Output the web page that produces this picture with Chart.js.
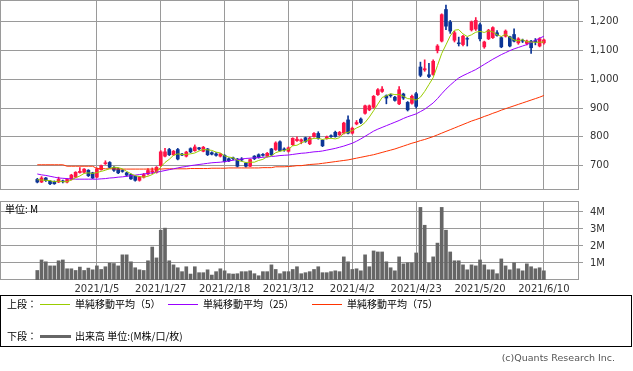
<!DOCTYPE html>
<html><head><meta charset="utf-8">
<script src="https://cdn.jsdelivr.net/npm/chart.js@4/dist/chart.umd.min.js"></script>
<style>
html,body{margin:0;padding:0;background:#fff;width:633px;height:371px;overflow:hidden;font-family:"DejaVu Sans",sans-serif;}
#wrap{position:relative;width:633px;height:371px;}
canvas{position:absolute;left:0;}
#c1{top:0;}
#c2{top:196px;}
.t{position:absolute;white-space:nowrap;color:#000;font-size:10px;line-height:12px;font-family:"Noto Sans CJK JP","DejaVu Sans",sans-serif;}
.ln{position:absolute;height:1px;}
#legend{position:absolute;left:0;top:295px;width:632px;height:52px;box-sizing:border-box;border:1px solid #000;}
#unit{position:absolute;left:5px;top:203px;font-size:10px;line-height:12px;color:#000;font-family:"Noto Sans CJK JP","DejaVu Sans",sans-serif;}
#copy{position:absolute;right:18px;top:352px;font-size:9.5px;line-height:12px;color:#555;font-family:"DejaVu Sans",sans-serif;}
</style></head>
<body><div id="wrap">
<canvas id="c1" width="633" height="195"></canvas>
<canvas id="c2" width="633" height="102"></canvas>
<div id="unit">単位: M</div>
<div id="legend"></div>
<div class="t" style="left:7px;top:298px;">上段：</div>
<div class="ln" style="left:40px;top:304px;width:30px;background:#99cc00;"></div>
<div class="t" style="left:75px;top:298px;">単純移動平均（5）</div>
<div class="ln" style="left:168px;top:304px;width:30px;background:#9900ff;"></div>
<div class="t" style="left:203px;top:298px;">単純移動平均（25）</div>
<div class="ln" style="left:312px;top:304px;width:30px;background:#ff3300;"></div>
<div class="t" style="left:347px;top:298px;">単純移動平均（75）</div>
<div class="t" style="left:7px;top:330px;">下段：</div>
<div class="ln" style="left:40px;top:335px;width:31px;height:3px;background:#666;"></div>
<div class="t" style="left:75px;top:330px;">出来高 単位:(M株/口/枚)</div>
<div id="copy">(c)Quants Research Inc.</div>
</div>
<script>
const dates = ["2020/12/14","2020/12/15","2020/12/16","2020/12/17","2020/12/18","2020/12/21","2020/12/22","2020/12/23","2020/12/24","2020/12/25","2020/12/28","2020/12/29","2020/12/30",
"2021/1/4","2021/1/5","2021/1/6","2021/1/7","2021/1/8","2021/1/12","2021/1/13","2021/1/14","2021/1/15","2021/1/18","2021/1/19","2021/1/20","2021/1/21","2021/1/22","2021/1/25","2021/1/26","2021/1/27","2021/1/28","2021/1/29",
"2021/2/1","2021/2/2","2021/2/3","2021/2/4","2021/2/5","2021/2/8","2021/2/9","2021/2/10","2021/2/12","2021/2/15","2021/2/16","2021/2/17","2021/2/18","2021/2/19","2021/2/22","2021/2/24","2021/2/25","2021/2/26",
"2021/3/1","2021/3/2","2021/3/3","2021/3/4","2021/3/5","2021/3/8","2021/3/9","2021/3/10","2021/3/11","2021/3/12","2021/3/15","2021/3/16","2021/3/17","2021/3/18","2021/3/19","2021/3/22","2021/3/23","2021/3/24","2021/3/25","2021/3/26","2021/3/29","2021/3/30","2021/3/31",
"2021/4/1","2021/4/2","2021/4/5","2021/4/6","2021/4/7","2021/4/8","2021/4/9","2021/4/12","2021/4/13","2021/4/14","2021/4/15","2021/4/16","2021/4/19","2021/4/20","2021/4/21","2021/4/22","2021/4/23","2021/4/26","2021/4/27","2021/4/28","2021/4/30",
"2021/5/6","2021/5/7","2021/5/10","2021/5/11","2021/5/12","2021/5/13","2021/5/14","2021/5/17","2021/5/18","2021/5/19","2021/5/20","2021/5/21","2021/5/24","2021/5/25","2021/5/26","2021/5/27","2021/5/28","2021/5/31",
"2021/6/1","2021/6/2","2021/6/3","2021/6/4","2021/6/7","2021/6/8","2021/6/9","2021/6/10"];

const openP = [652,643,657,646,645,643,647,643,652,660,
676,677,684,675,660,686,707,711,694,689,
683,675,669,663,649,660,671,679,677,700,
733,756,738,756,740,733,759,752,762,750,
758,745,741,733,736,724,727,723,723,709,
698,733,738,739,733,758,756,783,758,750,
773,787,785,797,776,801,812,788,795,804,
816,807,813,859,813,845,862,882,894,903,
947,958,943,946,938,915,949,920,917,950,
1043,1033,1016,1017,1100,1133,1243,1199,1136,1127,
1121,1142,1172,1175,1190,1113,1141,1145,1162,1145,
1150,1148,1156,1127,1136,1125,1133,1135,1116,1127];

const highP = [656,662,659,649,647,660,650,655,670,679,
693,690,686,677,692,702,717,714,697,692,
686,677,671,665,663,673,690,692,697,752,
760,760,753,760,743,750,762,772,764,767,
760,748,745,743,738,727,730,725,728,711,
723,735,741,742,746,760,783,786,762,765,
797,800,793,799,800,815,818,790,803,807,
820,819,851,873,834,857,866,911,911,944,
968,975,946,949,941,975,952,923,945,955,
1060,1068,1056,1068,1121,1228,1258,1205,1167,1147,
1153,1146,1203,1215,1196,1133,1174,1183,1170,1148,
1172,1150,1176,1145,1140,1137,1136,1142,1145,1140];

const lowP = [640,641,645,634,635,641,640,640,650,658,
674,675,662,655,658,684,704,692,680,672,
677,663,652,646,646,657,668,672,674,698,
730,735,735,720,735,730,745,750,755,748,
735,737,733,730,712,714,720,695,716,695,
696,721,726,733,730,735,753,750,750,747,
770,784,776,781,773,799,792,766,792,798,
799,805,810,810,810,842,846,879,891,900,
944,955,915,938,924,912,930,890,914,900,
1009,1028,1006,1014,1092,1130,1173,1160,1130,1116,
1116,1116,1168,1170,1134,1108,1138,1142,1150,1110,
1147,1113,1130,1122,1128,1120,1090,1120,1113,1122];

const closeP = [643,657,648,637,637,652,644,652,667,677,
680,688,665,657,689,700,710,694,684,675,
680,667,654,649,661,669,683,682,694,748,
748,738,750,723,737,747,748,765,758,764,
738,740,736,741,715,717,724,698,720,698,
721,724,729,736,743,738,779,752,755,762,
795,792,790,784,796,812,795,769,800,801,
801,816,848,813,830,850,850,908,908,941,
964,966,935,943,927,964,935,894,941,906,
1014,1037,1010,1063,1116,1225,1185,1168,1162,1124,
1150,1140,1200,1205,1141,1130,1171,1180,1153,1113,
1168,1116,1133,1141,1133,1133,1110,1130,1141,1137];

const ma5 = [651,650,649,648,644,646,644,644,650,658,
664,673,675,673,676,680,684,690,695,693,
689,680,672,665,662,660,663,669,678,695,
711,722,736,741,739,739,741,744,751,756,
755,753,747,744,734,730,727,719,715,711,
712,712,718,722,731,734,745,750,753,757,
769,771,779,785,791,795,795,791,794,795,
793,797,813,816,822,831,838,850,869,891,
914,937,943,950,947,947,941,933,932,928,
938,958,982,1006,1048,1090,1120,1151,1171,1173,
1158,1149,1155,1164,1167,1163,1169,1165,1155,1149,
1157,1146,1137,1134,1138,1131,1130,1129,1129,1130];

const ma25 = [671,668,666,663,660,657,656,655,654,653,
653,653,653,653,653,654,655,657,658,660,
661,663,665,667,669,671,673,675,677,680,
683,686,689,692,695,697,700,702,704,706,
708,710,711,712,714,716,719,721,723,725,
726,727,728,729,730,732,733,735,736,737,
739,741,743,744,746,748,749,751,754,757,
760,764,768,773,778,785,793,802,811,820,
827,833,839,845,851,857,864,870,875,880,
888,896,907,918,933,950,966,980,993,1005,
1013,1020,1027,1034,1043,1052,1061,1070,1078,1086,
1093,1100,1106,1111,1116,1121,1128,1136,1143,1150];

const ma75 = [703,703,703,703,703,703,703,698,698,698,
698,698,698,698,690,690,689,689,689,688,
688,688,688,688,688,688,688,688,688,688,
689,689,689,689,689,689,690,690,690,690,
690,691,691,691,691,692,692,692,692,692,
692,692,692,693,693,693,696,696,696,697,
698,700,700,702,704,705,706,708,710,712,
714,716,718,720,723,726,729,732,735,738,
742,746,750,754,758,763,768,773,778,782,
787,791,796,801,807,813,819,825,831,837,
843,849,855,860,865,871,876,882,887,893,
898,903,908,913,918,923,928,933,938,944];

const volumeM = [0.56,1.18,1.07,0.83,0.83,1.13,1.18,0.66,0.66,0.56,
0.76,0.56,0.70,0.60,0.83,0.62,0.78,0.99,0.97,0.83,
1.48,1.48,1.07,0.72,0.60,0.56,1.13,1.94,1.30,2.93,
3.05,1.13,0.89,0.72,0.49,0.78,0.35,0.78,0.43,0.43,
0.60,0.29,0.49,0.66,0.54,0.37,0.35,0.37,0.49,0.49,
0.54,0.37,0.25,0.49,0.49,0.89,0.62,0.37,0.49,0.49,
0.62,0.78,0.37,0.43,0.49,0.62,0.78,0.43,0.43,0.49,
0.54,0.49,1.36,1.07,0.62,0.66,0.54,1.48,0.78,1.71,
1.65,1.65,1.07,0.72,0.54,1.36,0.95,1.01,1.01,1.59,
4.27,3.22,1.01,1.36,2.17,4.27,2.93,1.65,1.13,1.13,
0.89,0.60,0.89,0.83,1.18,0.89,0.60,0.60,0.37,1.24,
0.83,0.60,1.01,0.66,0.54,0.95,0.78,0.66,0.72,0.54];

const dateTickLabels = ["2021/1/5","2021/1/27","2021/2/18","2021/3/12","2021/4/2","2021/4/23","2021/5/20","2021/6/10"];
const priceTickLabels = [700,800,900,1000,1100,1200];
const volumeTickLabels = [1,2,3,4];

const UP = '#ff1447', DOWN = '#0c3596', GRID = '#9a9a9a';
Chart.defaults.font.family = '"DejaVu Sans", sans-serif';
Chart.defaults.font.size = 10;
Chart.defaults.color = '#333';

const dateTickIdx = dateTickLabels.map(l => dates.indexOf(l));
const X_MIN = -8.76, X_MAX = 127.25;

const framePlugin = {
  id: 'frame',
  beforeDatasetsDraw(chart) {
    const {ctx, chartArea: a} = chart;
    ctx.save();
    ctx.strokeStyle = GRID; ctx.lineWidth = 1;
    ctx.strokeRect(Math.round(a.left) + 0.5, Math.round(a.top) + 0.5,
      Math.round(a.right - a.left) - 1, Math.round(a.bottom - a.top) - 1);
    ctx.restore();
  }
};

function zeroPad(s) { s.paddingTop = 0; s.paddingBottom = 0; s.paddingLeft = 0; s.paddingRight = 0; }

function xScale(showLabels, h) {
  return {
    type: 'linear', min: X_MIN, max: X_MAX, offset: false,
    afterBuildTicks: s => { s.ticks = dateTickIdx.map(v => ({value: v})); },
    afterFit: s => { s.height = h; zeroPad(s); },
    grid: {color: GRID, drawTicks: false, lineWidth: 1, offset: false},
    border: {display: false},
    ticks: {display: showLabels, autoSkip: false, maxRotation: 0, padding: 3, color: '#333',
      font: {size: 10}, callback: v => dates[v]}
  };
}

function yScale(min, max, ticks, fmt) {
  return {
    type: 'linear', position: 'right', min: min, max: max,
    afterBuildTicks: s => { s.ticks = ticks.map(v => ({value: v})); },
    afterFit: s => { s.width = 54; zeroPad(s); },
    grid: {color: GRID, tickLength: 4, lineWidth: 1, offset: false},
    border: {display: false},
    ticks: {padding: 7, color: '#333', font: {size: 10}, callback: fmt}
  };
}

const candleColors = openP.map((o, i) => closeP[i] >= o ? UP : DOWN);

new Chart(document.getElementById('c1'), {
  type: 'bar',
  data: {
    datasets: [
      {type: 'line', label: 'ma5', data: ma5.map((v, i) => ({x: i, y: v})), borderColor: '#99cc00', borderWidth: 1, pointRadius: 0, tension: 0},
      {type: 'line', label: 'ma25', data: ma25.map((v, i) => ({x: i, y: v})), borderColor: '#9900ff', borderWidth: 1, pointRadius: 0, tension: 0},
      {type: 'line', label: 'ma75', data: ma75.map((v, i) => ({x: i, y: v})), borderColor: '#ff3300', borderWidth: 1, pointRadius: 0, tension: 0},
      {label: 'body', data: openP.map((o, i) => ({x: i, y: [o, closeP[i]]})), backgroundColor: candleColors, barThickness: 3, grouped: false, borderWidth: 0},
      {label: 'wick', data: lowP.map((l, i) => ({x: i, y: [l, highP[i]]})), backgroundColor: candleColors, barThickness: 1, grouped: false, borderWidth: 0}
    ]
  },
  options: {
    responsive: false, animation: false, events: [],
    layout: {padding: 0},
    plugins: {legend: {display: false}, tooltip: {enabled: false}},
    scales: {
      x: xScale(false, 5),
      y: yScale(615.3, 1276, priceTickLabels, v => v.toLocaleString('en-US'))
    }
  },
  plugins: [framePlugin]
});

new Chart(document.getElementById('c2'), {
  type: 'bar',
  data: {
    datasets: [
      {label: 'volume', data: volumeM.map((v, i) => ({x: i, y: v})), backgroundColor: '#666', barThickness: 3, borderWidth: 0}
    ]
  },
  options: {
    responsive: false, animation: false, events: [],
    layout: {padding: {left: 0, right: 0, top: 5, bottom: 0}},
    plugins: {legend: {display: false}, tooltip: {enabled: false}},
    scales: {
      x: xScale(true, 18),
      y: yScale(0, 4.647, volumeTickLabels, v => v + 'M')
    }
  },
  plugins: [framePlugin]
});
</script>
</body></html>
